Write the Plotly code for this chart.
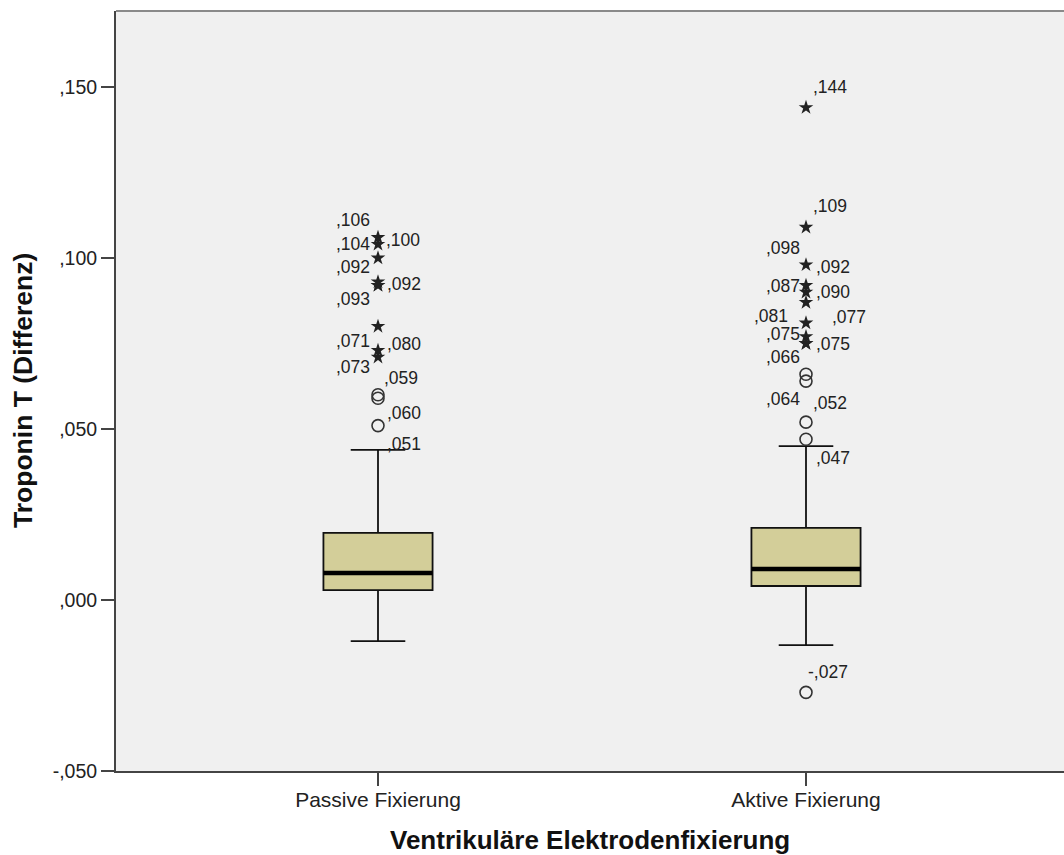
import plotly.graph_objects as go

# ---------------- data ----------------
categories = ["Passive Fixierung", "Aktive Fixierung"]
q1_vals = [0.0029, 0.0041]
median_vals = [0.0079, 0.0091]
q3_vals = [0.0196, 0.0211]
lower_whisker = [-0.0120, -0.0132]
upper_whisker = [0.0439, 0.0450]

# outliers (circles) and extremes (stars), per group
passive_outliers = [0.060, 0.059, 0.051]
passive_extremes = [0.106, 0.104, 0.100, 0.093, 0.092, 0.092, 0.080, 0.073, 0.071]
aktive_outliers = [0.066, 0.064, 0.052, 0.047, -0.027]
aktive_extremes = [0.144, 0.109, 0.098, 0.092, 0.090, 0.087, 0.081, 0.077, 0.075, 0.075]

y_tick_vals = [-0.05, 0.0, 0.05, 0.10, 0.15]

# ---------------- label placement (pixel offsets, style only) ----------------
# order: extremes then outliers for each group; (side, dx, dy)
passive_label_style = [
    ("l", -7, 17), ("l", -7, 0), ("r", 7, 18), ("l", -7, -17), ("l", -7, 18),
    ("r", 8, 1), ("r", 8, -18), ("l", -7, -17), ("l", -7, 16),
    ("r", 8, -18), ("r", 5, 20), ("r", 8, -18),
]
aktive_label_style = [
    ("r", 6, 21), ("r", 6, 21), ("l", -5, 17), ("r", 9, 18), ("r", 9, 0),
    ("l", -5, 16.5), ("l", -17, 6.5), ("r", 25, 20), ("l", -5, 10), ("r", 9, 0),
    ("l", -5, 17), ("l", -5, -18), ("r", 6, 19.5), ("r", 9, -18.5), ("r", 1, 20),
]

FONT = "Liberation Sans, Arial, sans-serif"
TXT = "#222222"
BOX_FILL = "#D3CE99"
BOX_W = 0.255


def fmt(v):
    s = f"{v:.3f}"
    return s.replace("0.", ",", 1)


fig = go.Figure()

xs = list(range(len(categories)))

fig.add_trace(go.Box(
    x=xs, q1=q1_vals, median=median_vals, q3=q3_vals,
    lowerfence=lower_whisker, upperfence=upper_whisker,
    boxpoints=False, width=BOX_W, whiskerwidth=0.5,
    fillcolor=BOX_FILL, line=dict(color="#111111", width=1.8),
    showlegend=False, hoverinfo="skip",
))

# thick median lines
for i, m in enumerate(median_vals):
    fig.add_trace(go.Scatter(
        x=[xs[i] - BOX_W / 2, xs[i] + BOX_W / 2], y=[m, m], mode="lines",
        line=dict(color="#000000", width=4.5), showlegend=False, hoverinfo="skip",
    ))

groups = [
    (passive_extremes, passive_outliers, passive_label_style),
    (aktive_extremes, aktive_outliers, aktive_label_style),
]

annotations = []
for gi, (ext, out, styles) in enumerate(groups):
    fig.add_trace(go.Scatter(
        x=[xs[gi]] * len(out), y=out, mode="markers",
        marker=dict(symbol="circle-open", size=12, color="#333333",
                    line=dict(width=1.6, color="#333333")),
        showlegend=False, hoverinfo="skip",
    ))
    fig.add_trace(go.Scatter(
        x=[xs[gi]] * len(ext), y=ext, mode="markers",
        marker=dict(symbol="star", size=11, color="#222222",
                    line=dict(width=0)),
        showlegend=False, hoverinfo="skip",
    ))
    vals = ext + out
    for v, (side, dx, dy) in zip(vals, styles):
        annotations.append(dict(
            x=xs[gi], y=v, xref="x", yref="y", text=fmt(v), showarrow=False,
            xanchor="right" if side == "l" else "left", yanchor="middle",
            xshift=dx, yshift=dy, borderpad=0,
            font=dict(family=FONT, size=17.5, color=TXT),
        ))

# axis titles
annotations.append(dict(
    x=0.5, y=0, xref="paper", yref="paper", yshift=-69, showarrow=False,
    text="<b>Ventrikuläre Elektrodenfixierung</b>", xanchor="center", yanchor="middle",
    font=dict(family=FONT, size=26, color="#111111"),
))
annotations.append(dict(
    x=0, y=0.5, xref="paper", yref="paper", xshift=-93, showarrow=False,
    text="<b>Troponin T (Differenz)</b>", textangle=-90,
    xanchor="center", yanchor="middle",
    font=dict(family=FONT, size=26.5, color="#111111"),
))

fig.update_layout(
    width=1064, height=855,
    margin=dict(l=116, r=0, t=11, b=84, pad=0),
    paper_bgcolor="white", plot_bgcolor="#F0F0F0",
    annotations=annotations,
    shapes=[dict(type="line", xref="paper", yref="paper", x0=0, x1=1, y0=1, y1=1,
                 line=dict(color="#8a8a8a", width=2))],
    hovermode=False,
)

fig.update_xaxes(
    range=[-262 / 428, 1 + 258 / 428], tickvals=xs, ticktext=categories,
    showgrid=False, zeroline=False, showline=True, linecolor="#444444", linewidth=2,
    ticks="outside", ticklen=13, tickwidth=1.5, tickcolor="#444444",
    ticklabelstandoff=-4,
    tickfont=dict(family=FONT, size=21, color=TXT),
)
fig.update_yaxes(
    range=[-0.05, -0.05 + 760 / 3420], tickvals=y_tick_vals,
    ticktext=[fmt(v) for v in y_tick_vals],
    showgrid=False, zeroline=False, showline=True, linecolor="#444444", linewidth=2,
    ticks="outside", ticklen=13, tickwidth=1.5, tickcolor="#444444",
    tickfont=dict(family=FONT, size=19.5, color=TXT),
)

fig.write_html("out.html")
